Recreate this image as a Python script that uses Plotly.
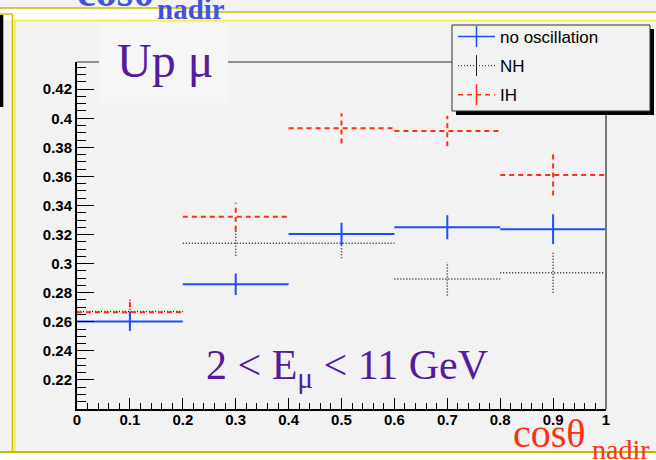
import plotly.graph_objects as go

# ---- data: muon fraction per cos(theta_nadir) bin ----
bin_edges = [0.0, 0.2, 0.4, 0.6, 0.8, 1.0]
no_osc = [0.2602, 0.2858, 0.3204, 0.3250, 0.3237]
no_osc_err = [0.0065, 0.0074, 0.0077, 0.0083, 0.0103]
nh = [0.2670, 0.3140, 0.3140, 0.2895, 0.2938]
nh_err = [0.0090, 0.0086, 0.0103, 0.0115, 0.0138]
ih = [0.2666, 0.3323, 0.3931, 0.3913, 0.3610]
ih_err = [0.0090, 0.0096, 0.0104, 0.0105, 0.0141]

x_tickvals = [0.0, 0.1, 0.2, 0.3, 0.4, 0.5, 0.6, 0.7, 0.8, 0.9, 1.0]
x_ticktext = ["0", "0.1", "0.2", "0.3", "0.4", "0.5", "0.6", "0.7", "0.8", "0.9", "1"]
y_tickvals = [0.22, 0.24, 0.26, 0.28, 0.30, 0.32, 0.34, 0.36, 0.38, 0.40, 0.42]
y_ticktext = ["0.22", "0.24", "0.26", "0.28", "0.3", "0.32", "0.34", "0.36", "0.38", "0.4", "0.42"]

W, H = 656, 460
ML, MR, MT, MB = 77, 50, 62, 51
PW, PH = W - ML - MR, H - MT - MB

BLUE = "#1f4cff"
RED = "#ff3010"
BLACK = "#202020"
PURPLE = "#561b9c"
DARK_YEL = "#c8c000"
BRIGHT_YEL = "#f6f040"
BG = "#f2f2f2"


def px(xp):
    return (xp - ML) / PW


def py(yp):
    return (H - MB - yp) / PH


def hist_xy(vals, errs):
    """Horizontal bin segments plus vertical error bars, separated by gaps."""
    xs, ys = [], []
    for i, (v, e) in enumerate(zip(vals, errs)):
        lo, hi = bin_edges[i], bin_edges[i + 1]
        c = 0.5 * (lo + hi)
        xs += [lo, hi, None, c, c, None]
        ys += [v, v, None, v - e, v + e, None]
    return xs, ys


fig = go.Figure()

series = [
    ("NH", nh, nh_err, BLACK, 1.5, "1px,2px"),
    ("IH", ih, ih_err, RED, 2, "5px,4px"),
    ("no oscillation", no_osc, no_osc_err, BLUE, 2, "solid"),
]
for name, vals, errs, col, w, dash in series:
    xs, ys = hist_xy(vals, errs)
    fig.add_trace(go.Scatter(x=xs, y=ys, mode="lines", showlegend=False,
                             line=dict(color=col, width=w, dash=dash),
                             hoverinfo="skip"))

# legend entries
legend_items = [
    ("no oscillation", BLUE, 1.5, "solid"),
    ("NH", BLACK, 1, "1px,2px"),
    ("IH", RED, 1.5, "5px,4px"),
]
for i, (name, col, w, dash) in enumerate(legend_items):
    fig.add_trace(go.Scatter(
        x=[None], y=[None], mode="lines+markers", name=name,
        legendgroup=f"g{i}",
        line=dict(color=col, width=w, dash=dash),
        marker=dict(symbol="line-ns", size=15, color=col,
                    line=dict(color=col, width=w)),
    ))


def hline(x0, x1, y, color, width):
    return dict(type="line", xref="paper", yref="paper",
                x0=px(x0), x1=px(x1), y0=py(y), y1=py(y),
                line=dict(color=color, width=width), layer="above")


def vline(x, y0, y1, color, width):
    return dict(type="line", xref="paper", yref="paper",
                x0=px(x), x1=px(x), y0=py(y0), y1=py(y1),
                line=dict(color=color, width=width), layer="above")


def rect(x0, y0, x1, y1, fill, line_color=None, line_width=0):
    return dict(type="rect", xref="paper", yref="paper",
                x0=px(x0), x1=px(x1), y0=py(y1), y1=py(y0),
                fillcolor=fill, layer="above",
                line=dict(color=line_color or fill, width=line_width))


shapes = [
    # frame of the slide
    rect(0, 12, 656, 20, "white"),
    rect(0, 8, 190, 14, "white"),
    rect(0, 452, 656, 460, "white"),
    hline(190, 656, 12, DARK_YEL, 1.5),
    hline(0, 190, 8, DARK_YEL, 1.5),
    hline(14, 656, 20.5, BRIGHT_YEL, 2),
    hline(0, 12.5, 14, DARK_YEL, 1.5),
    vline(12.5, 14, 452, DARK_YEL, 1.5),
    vline(15, 20, 452, BRIGHT_YEL, 1.5),
    rect(0, 15, 3.3, 107, "black"),
    hline(0, 656, 452, "#c2ba00", 2),
    # pad frame: top and right edges
    hline(ML, ML + PW, MT, "#303030", 1),
    vline(ML + PW, MT, MT + PH, "#777777", 2),
    # label box
    rect(99, 23, 228, 103, "#f6f6f6"),
    # legend shadow and box
    rect(456, 29, 654, 115, "black"),
    rect(452, 25, 650, 111, BG, "#303030", 1),
]


def ann(text, x_left, baseline, size, color, family, bold=False, anchor="left",
        ascent=0.891, descent=0.216):
    ymid = baseline - 0.5 * (ascent - descent) * size
    return dict(text=text, xref="paper", yref="paper", x=px(x_left), y=py(ymid),
                xanchor=anchor, yanchor="middle", showarrow=False,
                borderpad=0,
                font=dict(family=family, size=size, color=color,
                          weight="bold" if bold else "normal"))


annotations = [
    ann("Up μ", 165, 77, 48, PURPLE, "Liberation Serif", anchor="center"),
    ann("2 &lt; E<sub>μ</sub> &lt; 11 GeV", 205, 382, 42, PURPLE, "Liberation Serif"),
    ann("cosθ", 512, 447, 40, RED, "Liberation Serif"),
    ann("nadir", 591, 459, 28, RED, "Liberation Serif"),
    ann("cosθ", 76, 6.5, 42, "#4352dc", "Liberation Serif", bold=True),
    ann("nadir", 156, 18.3, 29, "#4352dc", "Liberation Serif", bold=True),
]

fig.update_layout(
    width=W, height=H,
    margin=dict(l=ML, r=MR, t=MT, b=MB, pad=0),
    paper_bgcolor=BG, plot_bgcolor=BG,
    shapes=shapes, annotations=annotations,
    showlegend=True,
    legend=dict(x=px(453), y=py(19), xanchor="left", yanchor="top",
                bgcolor="rgba(0,0,0,0)", borderwidth=0,
                font=dict(family="Liberation Sans", size=17, color="black"),
                tracegroupgap=4, itemwidth=37),
    xaxis=dict(range=[0, 1], tickmode="array", tickvals=x_tickvals, ticktext=x_ticktext,
               ticks="inside", ticklen=11, tickwidth=1, tickcolor="black",
               showline=True, linecolor="black", linewidth=1.5,
               showgrid=False, zeroline=False, ticklabelstandoff=-4,
               tickfont=dict(family="Liberation Sans", size=15, color="black", weight="bold"),
               minor=dict(tickmode="linear", tick0=0, dtick=0.02, ticks="inside",
                          ticklen=6, tickwidth=1, tickcolor="black", showgrid=False)),
    yaxis=dict(range=[0.2, 0.4387], tickmode="array", tickvals=y_tickvals, ticktext=y_ticktext,
               ticks="inside", ticklen=17, tickwidth=1, tickcolor="black",
               showline=True, linecolor="black", linewidth=2,
               showgrid=False, zeroline=False,
               tickfont=dict(family="Liberation Sans", size=15, color="black", weight="bold"),
               minor=dict(tickmode="linear", tick0=0.2, dtick=0.005, ticks="inside",
                          ticklen=9, tickwidth=1, tickcolor="black", showgrid=False)),
)

fig.write_html("out.html")
